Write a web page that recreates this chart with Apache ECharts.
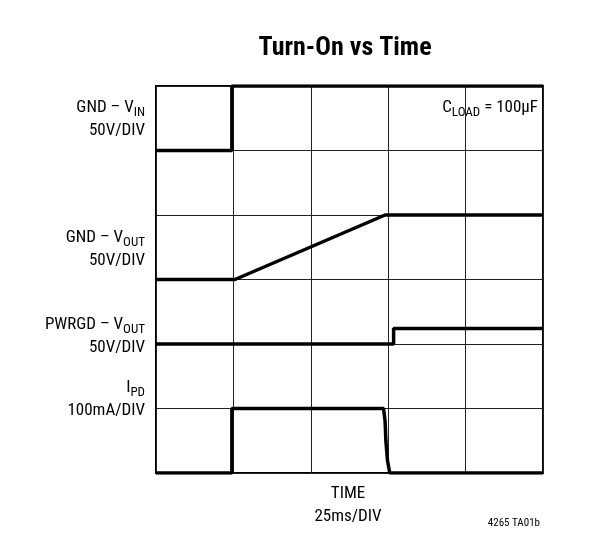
<!DOCTYPE html>
<html><head><meta charset="utf-8">
<script src="https://cdn.jsdelivr.net/npm/echarts@6/dist/echarts.min.js"></script>
<style>html,body{margin:0;background:#fff}#c{width:592px;height:540px}</style>
</head><body><div id="c"></div>
<script>
const vin = [[0,5],[0.98,5],[0.98,6],[5,6]];
const vout = [[0,3],[1.02,3],[2.96,4],[5,4]];
const pwrgd = [[0,2],[3.07,2],[3.07,2.24],[5,2.24]];
const ipd = [[0,0],[0.98,0],[0.98,1],[2.94,1],[2.96,0.8],[2.97,0.5],[2.99,0.2],[3.02,0],[5,0]];
const F = '"Liberation Sans Narrow","Roboto Condensed",Roboto,sans-serif';
const chart = echarts.init(document.getElementById('c'));
const ln = (d)=>({type:'line',data:d,showSymbol:false,symbol:'none',animation:false,
  lineStyle:{color:'#000',width:3.5},z:5});
const rich = {n:{fontSize:17,fontFamily:F,color:'#000'},s:{fontSize:13,fontFamily:F,color:'#000',verticalAlign:'bottom',padding:[10,0,0,0]}};
function lab(x,y,t,align){return {type:'text',left:undefined,x:x,y:y,style:{text:t,rich:rich,align:align||'right',verticalAlign:'middle',font:'17px '+F,fill:'#000'}};}
chart.setOption({
  animation:false,
  grid:{left:156,right:49,top:86,bottom:67,show:true,borderColor:'#000',borderWidth:2},
  xAxis:{type:'value',min:0,max:5,interval:1,axisLine:{show:false},axisTick:{show:false},axisLabel:{show:false},
    splitLine:{show:true,lineStyle:{color:'#222',width:1}}},
  yAxis:{type:'value',min:0,max:6,interval:1,axisLine:{show:false},axisTick:{show:false},axisLabel:{show:false},
    splitLine:{show:true,lineStyle:{color:'#222',width:1}}},
  series:[ln(vin),ln(vout),ln(pwrgd),ln(ipd)],
  graphic:[
    {type:'text',x:345,y:48,style:{text:'Turn-On vs Time',font:'bold 26px '+F,fill:'#000',align:'center',verticalAlign:'middle'}},
    lab(145,108,'{n|GND – V}{s|IN}'),lab(145,131,'{n|50V/DIV}'),
    lab(145,238,'{n|GND – V}{s|OUT}'),lab(145,261,'{n|50V/DIV}'),
    lab(145,325,'{n|PWRGD – V}{s|OUT}'),lab(145,348,'{n|50V/DIV}'),
    lab(145,388,'{n|I}{s|PD}'),lab(145,411,'{n|100mA/DIV}'),
    lab(538,108,'{n|C}{s|LOAD}{n| = 100µF}'),
    lab(348,494,'{n|TIME}','center'),lab(348,517,'{n|25ms/DIV}','center'),
    {type:'text',x:540,y:523,style:{text:'4265 TA01b',font:'11px '+F,fill:'#000',align:'right',verticalAlign:'middle'}}
  ]
});
</script></body></html>
